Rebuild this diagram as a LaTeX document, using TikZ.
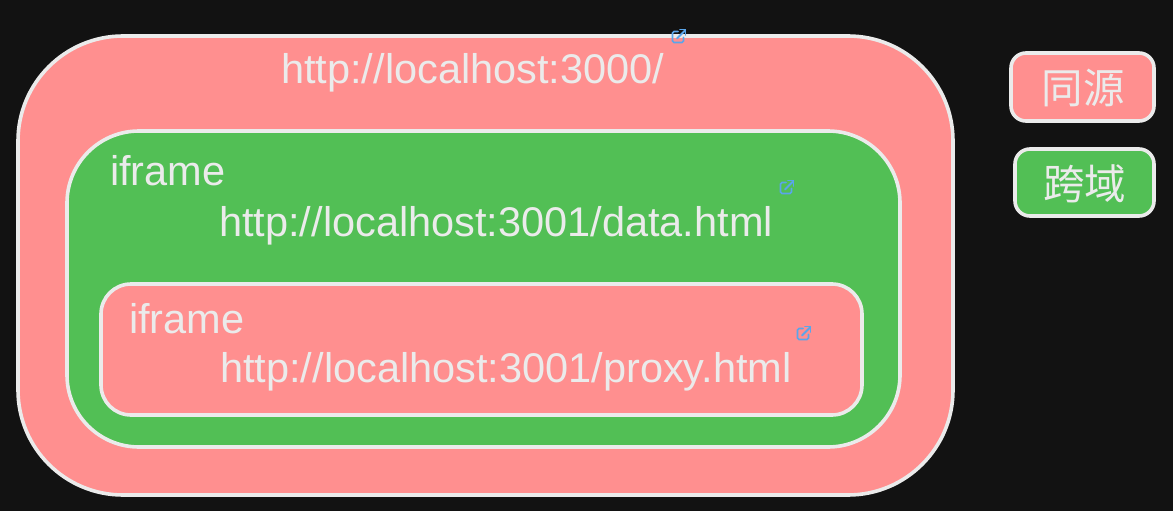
\documentclass[tikz,border=0pt]{standalone}
\usepackage{fontspec}
\setmainfont{Liberation Sans}
\newfontfamily\cjk{Noto Sans CJK SC}
\definecolor{bgc}{HTML}{121212}
\definecolor{pinkc}{HTML}{FF8F8F}
\definecolor{greenc}{HTML}{52BF55}
\definecolor{linec}{HTML}{EBEBEB}
\definecolor{iconc}{HTML}{5AA5EA}
\tikzset{
  x=1pt,y=-1pt,
  panel/.style={draw=linec,line width=3.6pt,rectangle,inner sep=0pt,outer sep=0pt},
  pinkpanel/.style={panel,fill=pinkc},
  greenpanel/.style={panel,fill=greenc},
  label/.style={text=linec,font=\fontsize{41.5}{41.5}\selectfont,inner sep=0pt,anchor=base west},
  cjklabel/.style={text=linec,font=\cjk\fontsize{41.5}{41.5}\selectfont,inner sep=0pt,anchor=center},
  linkicon/.pic={
    \draw[iconc,line width=1.7pt,rounded corners=1.5pt,line cap=round] (-1,-4.5) -- (-6.5,-4.5) -- (-6.5,6.5) -- (4.5,6.5) -- (4.5,1.5);
    \draw[iconc,line width=1.8pt,line cap=round] (-2,2.5) -- (6,-5.5);
    \draw[iconc,line width=1.8pt,line cap=round] (1,-6.5) -- (6.5,-6.5) -- (6.5,-1);
  }
}
\begin{document}
\begin{tikzpicture}
\useasboundingbox (0,0) rectangle (1173,511);
\fill[bgc] (0,0) rectangle (1173,511);
\node[pinkpanel,rounded corners=105pt,minimum width=935pt,minimum height=459pt] (outer) at (485.5,265.5) {};
\node[greenpanel,rounded corners=72pt,minimum width=833pt,minimum height=316pt] (mid) at (483.5,289) {};
\node[pinkpanel,rounded corners=30pt,minimum width=761pt,minimum height=131pt] (inner) at (481.5,349.5) {};
\node[pinkpanel,rounded corners=15pt,minimum width=143pt,minimum height=68pt] (same) at (1082.5,87) {};
\node[greenpanel,rounded corners=15pt,minimum width=139pt,minimum height=67pt] (cross) at (1084.5,182.5) {};
\node[cjklabel] (samet) at (1083,88) {同源};
\node[cjklabel] (crosst) at (1084.5,184) {跨域};
\node[label] (t1) at (281,84) {http://localhost:3000/};
\node[label] (t2) at (110,185) {iframe};
\node[label] (t3) at (219,236) {http://localhost:3001/data.html};
\node[label] (t4) at (129,333) {iframe};
\node[label] (t5) at (220,382) {http://localhost:3001/proxy.html};
\pic at (679,36) {linkicon};
\pic at (787,187) {linkicon};
\pic at (804,333) {linkicon};
\end{tikzpicture}
\end{document}
